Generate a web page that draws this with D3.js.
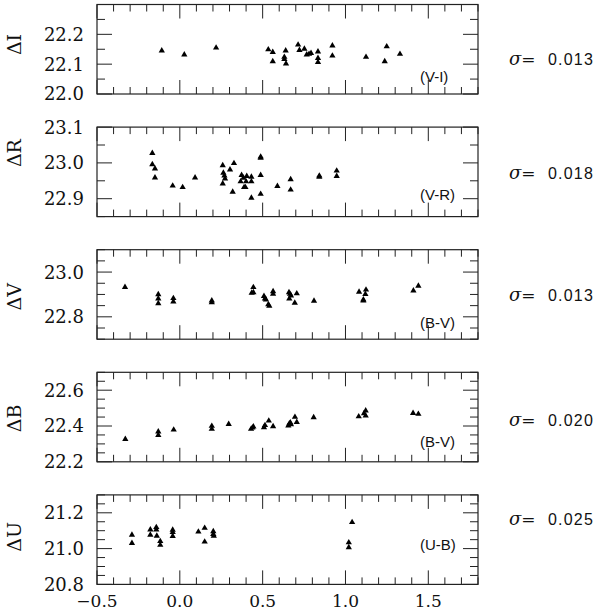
<!DOCTYPE html>
<html><head><meta charset="utf-8">
<script src="https://cdn.jsdelivr.net/npm/d3@7"></script>
<style>body{margin:0;background:#fff}</style>
</head><body>
<svg id="c" width="600" height="612"></svg>
<script>
// ---- data ----
const xDomain = [-0.5, 1.8];
const xTickLabels = ["\u22120.5", "0.0", "0.5", "1.0", "1.5"];
const xMajor = [-0.5, 0.0, 0.5, 1.0, 1.5];

const bands = ["\u0394I", "\u0394R", "\u0394V", "\u0394B", "\u0394U"];
const colorLabels = ["(V-I)", "(V-R)", "(B-V)", "(B-V)", "(U-B)"];
const sigmas = ["0.013", "0.018", "0.013", "0.020", "0.025"];

const yDomainI = [22.0, 22.3], yMajorI = [22.0, 22.1, 22.2];
const yDomainR = [22.85, 23.1], yMajorR = [22.9, 23.0, 23.1];
const yDomainV = [22.7, 23.1], yMajorV = [22.8, 23.0];
const yDomainB = [22.2, 22.7], yMajorB = [22.2, 22.4, 22.6];
const yDomainU = [20.8, 21.3], yMajorU = [20.8, 21.0, 21.2];

const pointsI = [[-0.109,22.145],[0.027,22.132],[0.219,22.155],[0.534,22.149],[0.561,22.140],[0.561,22.109],
 [0.639,22.145],[0.631,22.124],[0.631,22.117],[0.641,22.102],[0.714,22.165],[0.722,22.147],[0.752,22.151],
 [0.766,22.132],[0.780,22.134],[0.792,22.137],[0.834,22.142],[0.834,22.120],[0.834,22.107],[0.921,22.162],
 [0.921,22.128],[1.124,22.124],[1.237,22.109],[1.249,22.159],[1.329,22.134]];
const pointsR = [[-0.166,23.027],[-0.166,22.996],[-0.150,22.984],[-0.150,22.959],[-0.043,22.936],[0.017,22.932],
 [0.092,22.959],[0.259,22.993],[0.259,22.942],[0.263,22.972],[0.269,22.964],[0.273,22.956],[0.303,22.981],
 [0.319,22.919],[0.327,22.999],[0.373,22.966],[0.367,22.948],[0.384,22.958],[0.388,22.932],[0.396,22.932],
 [0.400,22.948],[0.404,22.963],[0.432,22.961],[0.432,22.948],[0.432,22.902],[0.488,23.014],[0.488,23.017],
 [0.488,22.966],[0.488,22.913],[0.589,22.935],[0.669,22.954],[0.669,22.925],[0.842,22.964],[0.842,22.961],
 [0.947,22.978],[0.947,22.963]];
const pointsV = [[-0.331,22.933],[-0.130,22.900],[-0.130,22.881],[-0.130,22.860],[-0.039,22.883],[-0.039,22.868],
 [0.193,22.872],[0.193,22.864],[0.434,22.907],[0.444,22.932],[0.444,22.909],[0.508,22.892],[0.514,22.881],
 [0.520,22.877],[0.534,22.855],[0.540,22.849],[0.563,22.914],[0.563,22.902],[0.659,22.909],[0.665,22.902],
 [0.671,22.895],[0.661,22.881],[0.706,22.904],[0.694,22.862],[0.810,22.871],[1.082,22.911],[1.108,22.877],
 [1.108,22.872],[1.120,22.901],[1.124,22.921],[1.410,22.917],[1.440,22.938]];
const pointsB = [[-0.329,22.327],[-0.130,22.368],[-0.130,22.349],[-0.037,22.379],[0.193,22.400],[0.193,22.383],
 [0.295,22.410],[0.430,22.383],[0.438,22.390],[0.444,22.396],[0.508,22.392],[0.514,22.404],[0.537,22.429],
 [0.563,22.398],[0.655,22.402],[0.661,22.413],[0.667,22.419],[0.671,22.409],[0.695,22.450],[0.706,22.421],
 [0.808,22.448],[1.080,22.453],[1.112,22.470],[1.122,22.486],[1.122,22.457],[1.408,22.472],[1.440,22.467]];
const pointsU = [[-0.289,21.077],[-0.289,21.030],[-0.178,21.106],[-0.178,21.077],[-0.142,21.119],[-0.142,21.106],
 [-0.139,21.071],[-0.118,21.041],[-0.118,21.020],[-0.043,21.104],[-0.043,21.091],[-0.043,21.070],[0.112,21.094],
 [0.150,21.115],[0.150,21.038],[0.202,21.096],[0.202,21.081],[0.205,21.071],[1.020,21.034],[1.020,21.007],
 [1.040,21.147]];

// ---- layout ----
const left = 97, right = 478;
const panelTop0 = 4.5, panelStep = 122.6, panelH = 89.5;
const titleOffsets = [40, 26, 47, 46, 42];
const colorLabelOffsets = [72, 68, 73, 69, 50];
const sigmaOffsets = [55, 46, 46, 48, 24];

const panels = [
  {dom: yDomainI, major: yMajorI, minorStep: 0.05, pts: pointsI},
  {dom: yDomainR, major: yMajorR, minorStep: 0.05, pts: pointsR},
  {dom: yDomainV, major: yMajorV, minorStep: 0.05, pts: pointsV},
  {dom: yDomainB, major: yMajorB, minorStep: 0.05, pts: pointsB},
  {dom: yDomainU, major: yMajorU, minorStep: 0.05, pts: pointsU}
];

const svg = d3.select("#c");
const x = d3.scaleLinear().domain(xDomain).range([left, right]);
const ink = "#222";
const serif = "DejaVu Serif, serif";
const sans = "Liberation Sans, Arial, sans-serif";
const tri = d3.symbol().type(d3.symbolTriangle).size(17);

function range(a, b, s) {
  const out = [];
  const n = Math.round((b - a) / s);
  for (let i = 0; i <= n; i++) out.push(+(a + i * s).toFixed(4));
  return out;
}
const xMinor = range(-0.5, 1.8, 0.1).filter(v => !xMajor.some(m => Math.abs(m - v) < 1e-6));

panels.forEach((p, i) => {
  const top = panelTop0 + i * panelStep, bot = top + panelH;
  const y = d3.scaleLinear().domain(p.dom).range([bot, top]);
  const g = svg.append("g");
  const yMinor = range(p.dom[0], p.dom[1], p.minorStep).filter(v => !p.major.some(m => Math.abs(m - v) < 1e-6));

  g.append("rect").attr("x", left).attr("y", top).attr("width", right - left).attr("height", panelH)
    .attr("fill", "none").attr("stroke", ink).attr("stroke-width", 1.2);

  const xt = (vals, len) => {
    vals.forEach(v => {
      const px = x(v);
      g.append("line").attr("x1", px).attr("x2", px).attr("y1", bot).attr("y2", bot - len).attr("stroke", ink);
      g.append("line").attr("x1", px).attr("x2", px).attr("y1", top).attr("y2", top + len).attr("stroke", ink);
    });
  };
  xt(xMinor, 7); xt(xMajor, 14);
  const yt = (vals, len) => {
    vals.forEach(v => {
      const py = y(v);
      g.append("line").attr("x1", left).attr("x2", left + len).attr("y1", py).attr("y2", py).attr("stroke", ink);
      g.append("line").attr("x1", right).attr("x2", right - len).attr("y1", py).attr("y2", py).attr("stroke", ink);
    });
  };
  yt(yMinor, 8); yt(p.major, 15);

  g.selectAll("text.yl").data(p.major).enter().append("text")
    .attr("x", 84).attr("y", d => y(d)).attr("dy", "0.36em").attr("text-anchor", "end")
    .attr("font-family", serif).attr("font-size", 18).attr("font-weight", 300).attr("fill", "#111")
    .text(d => d.toFixed(1));

  g.append("text").attr("transform", `translate(21,${top + titleOffsets[i]}) rotate(-90)`)
    .attr("text-anchor", "middle").attr("font-family", serif).attr("font-size", 19).attr("fill", "#111")
    .text(bands[i]);

  g.selectAll("path.pt").data(p.pts).enter().append("path")
    .attr("d", tri).attr("transform", d => `translate(${x(d[0])},${y(d[1])})`).attr("fill", "#000");

  g.append("text").attr("x", 420).attr("y", top + colorLabelOffsets[i]).attr("dy", "0.35em")
    .attr("font-family", sans).attr("font-size", 15).attr("fill", "#111").text(colorLabels[i]);

  const st = g.append("text").attr("x", 509).attr("y", top + sigmaOffsets[i]).attr("dy", "0.35em")
    .attr("fill", "#111");
  st.append("tspan").attr("font-family", serif).attr("font-style", "italic").attr("font-size", 18).text("\u03C3");
  st.append("tspan").attr("font-family", serif).attr("font-size", 17).text("=");
  st.append("tspan").attr("x", 548).attr("font-family", sans).attr("font-size", 16).attr("letter-spacing", 1.2).text(sigmas[i]);

  if (i === panels.length - 1) {
    g.selectAll("text.xl").data(xMajor).enter().append("text")
      .attr("x", d => x(d)).attr("y", 601).attr("dy", "0.36em").attr("text-anchor", "middle")
      .attr("font-family", serif).attr("font-size", 17).attr("fill", "#111")
      .text((d, k) => xTickLabels[k]);
  }
});
</script>
</body></html>
